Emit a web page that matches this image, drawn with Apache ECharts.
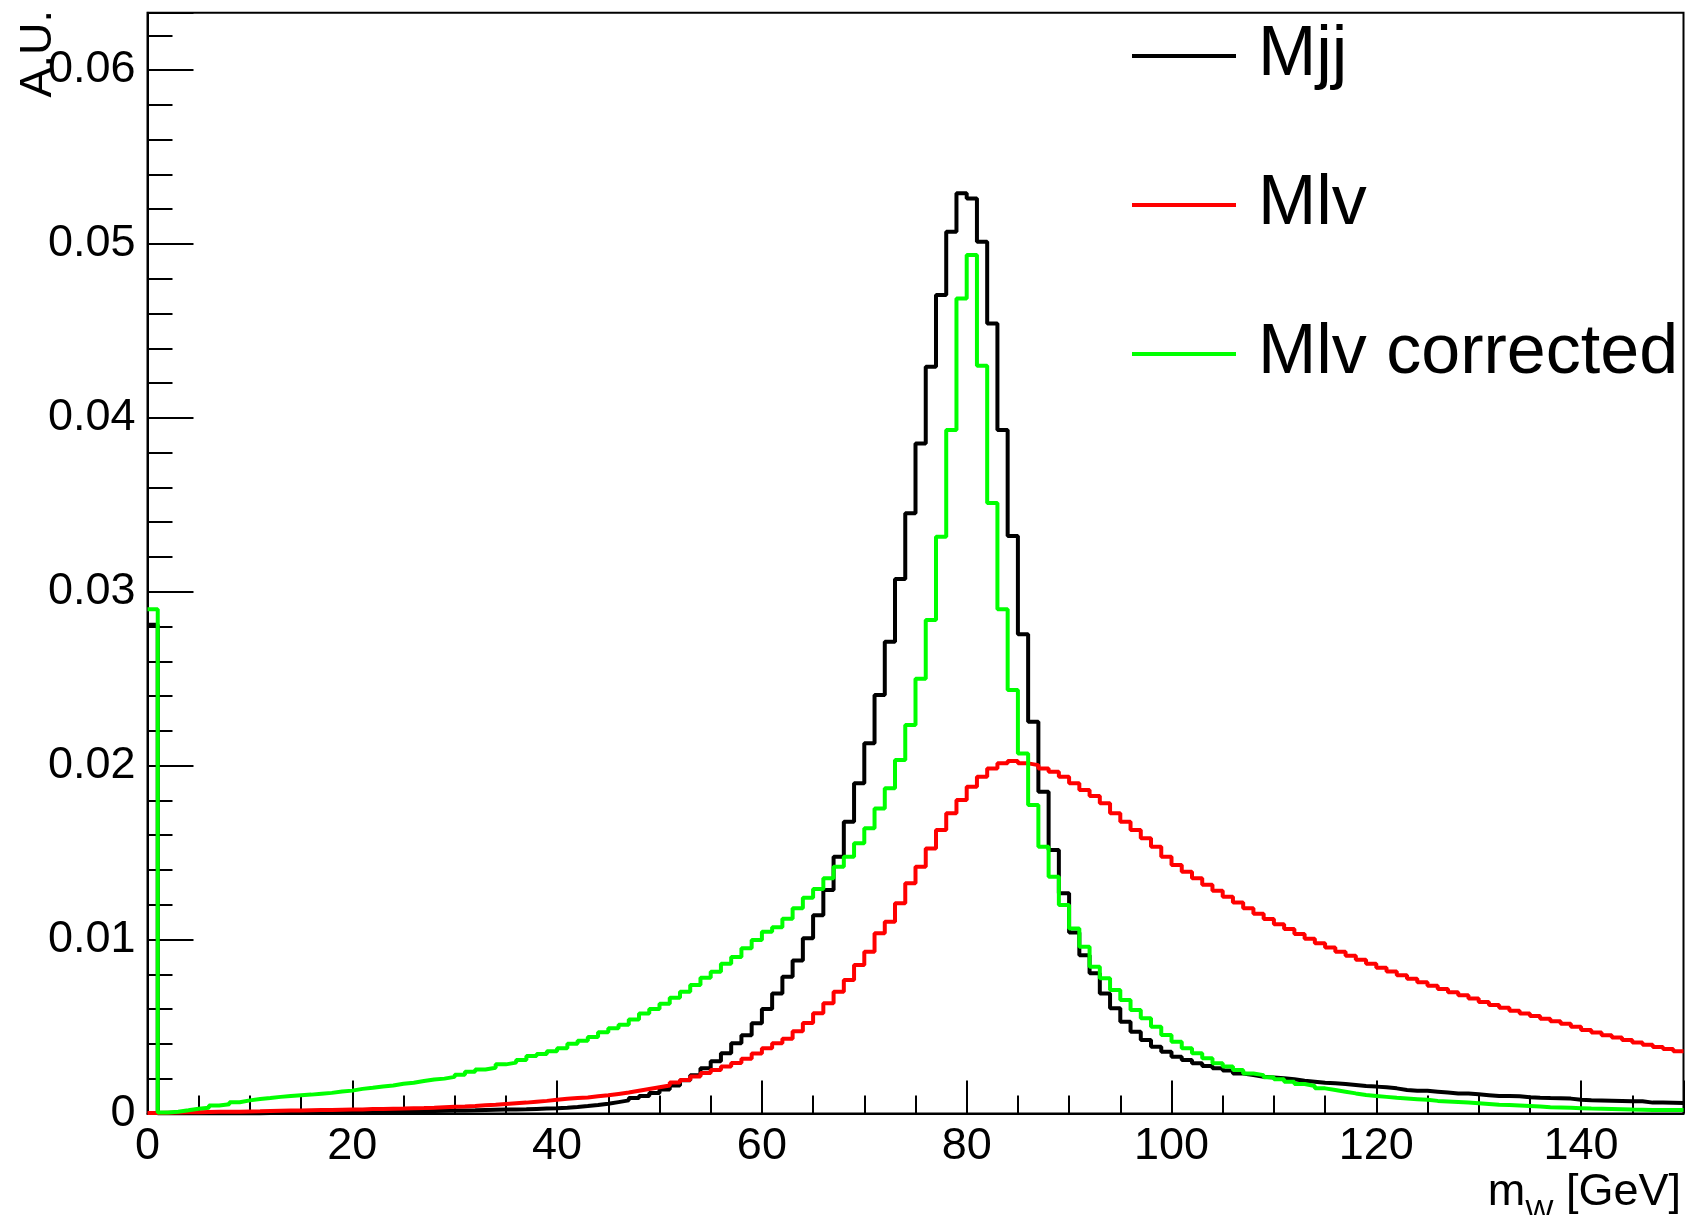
<!DOCTYPE html>
<html>
<head>
<meta charset="utf-8">
<script src="https://cdn.jsdelivr.net/npm/echarts@6/dist/echarts.min.js"></script>
<style>
html,body{margin:0;padding:0;background:#fff;}
#chart{width:1690px;height:1215px;}
</style>
</head>
<body>
<div id="chart"></div>
<script>
// ---- data (1 GeV bins from 0 to 150 GeV) ----
const binWidth = 1;
const binLowEdges = Array.from({length: 150}, (_, i) => i * binWidth);
const xTickValues = [0, 20, 40, 60, 80, 100, 120, 140];
const xTickLabels = ['0', '20', '40', '60', '80', '100', '120', '140'];
const yTickValues = [0, 0.01, 0.02, 0.03, 0.04, 0.05, 0.06];
const yTickLabels = ['0', '0.01', '0.02', '0.03', '0.04', '0.05', '0.06'];
const seriesNames = ['Mjj', 'Mlv', 'Mlv corrected'];

const mjj = [
0.0281,0,0,0,0,0,0,0,0,0,
0,0.00002,0.00002,0.00003,0.00003,0.00004,0.00004,0.00005,0.00005,0.00006,
0.00007,0.00008,0.00009,0.0001,0.00011,0.00012,0.00013,0.00014,0.00015,0.00016,
0.00017,0.00018,0.0002,0.00021,0.00022,0.00023,0.00024,0.00026,0.00028,0.0003,
0.00033,0.00037,0.00042,0.00048,0.00055,0.00065,0.00075,0.00088,0.001,0.00118,
0.00138,0.0016,0.0019,0.0022,0.0026,0.003,0.00346,0.00403,0.0045,0.00518,
0.006,0.0069,0.00786,0.0088,0.01007,0.0114,0.01285,0.01476,0.01677,0.01898,
0.02128,0.02406,0.02713,0.03073,0.03451,0.03853,0.04294,0.04706,0.0507,0.05291,
0.05262,0.05013,0.04543,0.0393,0.0332,0.02755,0.02253,0.0185,0.01515,0.01266,
0.0104,0.0091,0.00806,0.0069,0.00604,0.00527,0.0047,0.00422,0.00384,0.00355,
0.00326,0.00307,0.00288,0.00273,0.00259,0.00246,0.0023,0.00221,0.00211,0.00207,
0.00202,0.00196,0.00188,0.00182,0.00176,0.00173,0.00169,0.00163,0.00157,0.00154,
0.0015,0.00144,0.00135,0.0013,0.0013,0.00125,0.0012,0.00115,0.00115,0.0011,
0.00105,0.001,0.001,0.00098,0.00093,0.0009,0.00088,0.00087,0.00085,0.00078,
0.00075,0.00074,0.00073,0.00072,0.0007,0.0007,0.00062,0.00062,0.00061,0.0006
];

const mlv = [
0.00003,0.00004,0.00005,0.00006,0.00007,0.00008,0.00009,0.0001,0.0001,0.00011,
0.00012,0.00014,0.00015,0.00016,0.00017,0.00018,0.00019,0.0002,0.00021,0.00022,
0.00023,0.00025,0.00026,0.00027,0.00028,0.0003,0.00031,0.00033,0.00036,0.00038,
0.0004,0.00043,0.00047,0.0005,0.00054,0.00058,0.00062,0.00067,0.00072,0.00078,
0.00084,0.00088,0.00092,0.00098,0.00104,0.00112,0.0012,0.0013,0.0014,0.0015,
0.0016,0.00177,0.00192,0.00212,0.00232,0.0025,0.0027,0.0029,0.00315,0.00345,
0.00374,0.00403,0.0043,0.00473,0.0052,0.00576,0.00633,0.007,0.00767,0.00853,
0.0093,0.01036,0.01102,0.01208,0.01323,0.01419,0.01524,0.0163,0.01726,0.01802,
0.01879,0.01936,0.01984,0.02013,0.02026,0.02013,0.02003,0.01984,0.01965,0.01936,
0.01898,0.0186,0.01825,0.01783,0.01726,0.01677,0.0163,0.01582,0.01534,0.01476,
0.01428,0.0139,0.01352,0.01315,0.0128,0.01246,0.01213,0.0118,0.01148,0.01118,
0.01088,0.0106,0.01032,0.01005,0.00979,0.00954,0.0093,0.00906,0.00883,0.0086,
0.00838,0.00816,0.00795,0.00774,0.00754,0.00734,0.00715,0.00697,0.00679,0.00661,
0.0064,0.00623,0.00607,0.00591,0.00575,0.0056,0.00545,0.0053,0.00516,0.00498,
0.0048,0.00465,0.0045,0.00436,0.00422,0.00408,0.00395,0.00382,0.0037,0.00358
];

const mlvCorrected = [
0.029,0.00005,0.0001,0.00018,0.00027,0.00033,0.00045,0.00052,0.00064,0.00075,
0.00083,0.00088,0.00095,0.001,0.00104,0.00108,0.00113,0.00118,0.00126,0.00131,
0.00141,0.00147,0.00155,0.0016,0.0017,0.00176,0.00186,0.00195,0.002,0.0021,
0.00222,0.0024,0.00252,0.00262,0.00282,0.00292,0.00307,0.0033,0.00342,0.00357,
0.00374,0.004,0.00418,0.0044,0.00466,0.0049,0.0051,0.0054,0.00575,0.006,
0.0063,0.00665,0.007,0.00738,0.0078,0.00815,0.0086,0.009,0.0095,0.00997,
0.01045,0.0107,0.0112,0.0118,0.0124,0.0129,0.01352,0.01419,0.01476,0.01553,
0.0164,0.01754,0.0187,0.02032,0.02233,0.025,0.02837,0.03316,0.0393,0.04687,
0.04936,0.043,0.0351,0.029,0.02435,0.0207,0.01773,0.01534,0.01361,0.01198,
0.01064,0.00959,0.00844,0.00777,0.0071,0.00652,0.00595,0.00547,0.00499,0.00451,
0.00412,0.00374,0.00346,0.00317,0.00288,0.00269,0.0025,0.0023,0.0022,0.00208,
0.00196,0.00182,0.00169,0.00158,0.00144,0.00135,0.00125,0.00115,0.00106,0.001,
0.00095,0.0009,0.00086,0.00082,0.00078,0.00072,0.00069,0.00066,0.00062,0.00058,
0.00054,0.0005,0.00048,0.00046,0.00043,0.0004,0.00036,0.00034,0.00032,0.0003,
0.00028,0.00027,0.00026,0.00024,0.00022,0.00021,0.0002,0.0002,0.00019,0.00019
];

// ---- helpers ----
function histPoints(values) {
  const pts = values.map((v, i) => [binLowEdges[i], v]);
  pts.push([binLowEdges[values.length - 1] + binWidth, values[values.length - 1]]);
  return pts;
}
function labelFor(v, vals, labs) {
  for (let i = 0; i < vals.length; i++) {
    if (Math.abs(v - vals[i]) < 1e-9) return labs[i];
  }
  return '';
}

const FONT = '"Liberation Sans", Arial, Helvetica, sans-serif';
const colors = ['#000000', '#ff0000', '#00ff00'];
const seriesData = [mjj, mlv, mlvCorrected];

const chart = echarts.init(document.getElementById('chart'), null, {renderer: 'canvas'});
const option = {
  animation: false,
  backgroundColor: '#ffffff',
  grid: {
    left: 147.5, right: 6.5, top: 12.7, bottom: 101.6,
    show: true, borderColor: '#000', borderWidth: 2, backgroundColor: 'transparent',
    containLabel: false, outerBoundsMode: 'none'
  },
  xAxis: {
    type: 'value', min: 0, max: 150, interval: 20,
    axisLine: {show: true, onZero: false, lineStyle: {color: '#000', width: 2}},
    axisTick: {show: true, inside: true, length: 33, lineStyle: {color: '#000', width: 2}},
    minorTick: {show: true, splitNumber: 4, length: 18, lineStyle: {color: '#000', width: 2}},
    splitLine: {show: false}, minorSplitLine: {show: false},
    axisLabel: {
      show: true, margin: 11, color: '#000', fontSize: 45, fontFamily: FONT,
      hideOverlap: false,
      formatter: v => labelFor(v, xTickValues, xTickLabels)
    },
    name: '{m|m}{w|W}{g| [GeV]}',
    nameLocation: 'end', nameGap: -2.5, nameMoveOverlap: false,
    nameTextStyle: {
      align: 'right', verticalAlign: 'top', padding: [57, 0, 0, 0],
      color: '#000', fontFamily: FONT, fontSize: 45,
      rich: {
        m: {fontSize: 45, fontFamily: FONT, color: '#000', lineHeight: 46, verticalAlign: 'top'},
        w: {fontSize: 30, fontFamily: FONT, color: '#000', verticalAlign: 'top', padding: [26, 0, 0, 0]},
        g: {fontSize: 45, fontFamily: FONT, color: '#000', lineHeight: 46, verticalAlign: 'top'}
      }
    }
  },
  yAxis: {
    type: 'value', min: 0, max: 0.0633, interval: 0.01,
    axisLine: {show: true, onZero: false, lineStyle: {color: '#000', width: 2}},
    axisTick: {show: true, inside: true, length: 46, lineStyle: {color: '#000', width: 2}},
    minorTick: {show: true, splitNumber: 5, length: 25, lineStyle: {color: '#000', width: 2}},
    splitLine: {show: false}, minorSplitLine: {show: false},
    axisLabel: {
      show: true, margin: 12, color: '#000', fontSize: 45, fontFamily: FONT,
      hideOverlap: false,
      formatter: v => labelFor(v, yTickValues, yTickLabels)
    }
  },
  legend: {
    show: true, orient: 'vertical', left: 1132, top: 16, padding: 0,
    icon: 'rect', itemWidth: 104, itemHeight: 4, itemGap: 69, selectedMode: false,
    textStyle: {fontSize: 70, fontFamily: FONT, color: '#000', lineHeight: 80, padding: [0, 0, 0, 17]},
    data: seriesNames
  },
  graphic: [{
    type: 'text', x: 39, y: 10, rotation: Math.PI / 2,
    style: {text: 'A.U.', fontSize: 45, fontFamily: FONT, fill: '#000', align: 'right', verticalAlign: 'middle'}
  }],
  series: seriesNames.map((name, k) => ({
    type: 'line', name: name, step: 'end',
    data: histPoints(seriesData[k]),
    symbol: 'none', showSymbol: false, silent: true, clip: true,
    lineStyle: {color: colors[k], width: 4},
    itemStyle: {color: colors[k]}
  }))
};
chart.setOption(option);
</script>
</body>
</html>
